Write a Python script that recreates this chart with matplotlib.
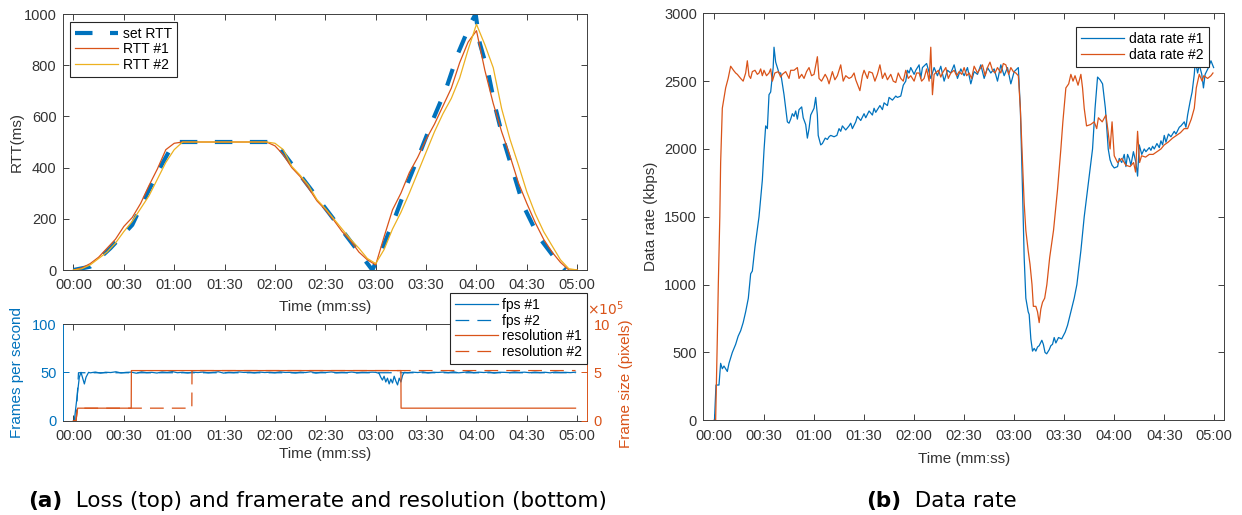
import numpy as np
import matplotlib.pyplot as plt
from matplotlib.ticker import FuncFormatter, MultipleLocator

# MATLAB default colours
BLUE = '#0072BD'
ORANGE = '#D95319'
YELLOW = '#EDB120'
AXCOL = '#404040'

plt.rcParams['font.family'] = ['Liberation Sans', 'DejaVu Sans']
plt.rcParams['font.size'] = 10.5

# ---- data (seconds) ----
# set RTT (ms)
set_rtt_t = [0, 10, 22, 35, 44, 53, 60, 120, 178, 184, 192, 199, 207, 214, 222, 229, 237, 239.5,
             242, 247, 251, 256, 262, 268, 277, 289, 293]
set_rtt_v = [0, 13, 85, 176, 300, 417, 500, 500, 0, 85, 215, 339, 469, 586, 710, 846, 970, 1000,
             885, 771, 641, 510, 380, 250, 130, 26, 0]

# measured RTT, sampled every 5 s
rtt1 = [0, 8, 25, 50, 85, 120, 170, 205, 260, 330, 395, 470, 495,
        500, 500, 500, 500, 500, 500, 500, 500, 500, 500, 500,
        485, 450, 400, 365, 320, 270, 235, 195, 150, 115, 70, 40, 20,
        130, 235, 300, 380, 440, 510, 570, 640, 710, 810, 890, 935,
        780, 650, 540, 445, 340, 260, 185, 120, 70, 30, 0, 0]
rtt2 = [0, 5, 20, 45, 70, 105, 150, 190, 240, 290, 355, 420, 470, 500,
        500, 500, 500, 500, 500, 500, 500, 500, 500, 500,
        495, 470, 405, 370, 330, 275, 240, 200, 160, 120, 85, 45, 25,
        80, 160, 225, 300, 380, 460, 540, 610, 670, 750, 860, 960,
        880, 790, 630, 510, 410, 305, 220, 150, 95, 40, 5, 0]

# frames per second
fps1_start_t = [0, 0.5, 3.5, 4.5, 5.5, 6.5, 7.5, 9]
fps1_start_v = [0, 0, 45, 50, 44, 38, 45, 50]
fps1_mid = [49.5, 50.3, 49.2, 50.1, 49.8, 50.6, 49.4, 50.0, 50.2, 49.1, 50.5, 49.7, 50.0, 49.3,
            50.4, 49.9, 50.8, 49.6, 50.1, 49.4, 50.2, 49.8, 50.3, 49.5, 50.0, 50.6, 49.2, 50.1,
            49.7, 50.4, 49.9, 50.2, 49.5, 50.3, 49.8, 50.1, 49.6, 50.5, 49.9, 50.0, 49.4, 50.2,
            49.8, 50.6, 49.3, 50.1, 49.9, 50.4, 49.6, 50.0, 49.8, 50.3, 49.5, 50.1, 49.9, 50.2]
fps1_dip_t = [180, 182, 183, 184, 185, 186, 187, 188, 189, 190, 191, 192, 193, 194, 195, 196, 197]
fps1_dip_v = [50, 49, 45, 42, 46, 40, 44, 38, 43, 39, 46, 41, 37, 44, 40, 47, 50]
fps1_end = [49.6, 50.2, 49.8, 50.5, 49.4, 50.1, 49.9, 50.3, 49.7, 50.6, 49.5, 50.0, 50.8, 49.6,
            50.2, 49.8, 50.4, 49.3, 50.1, 50.0, 49.7, 50.5, 49.9, 50.2, 49.6, 50.3, 49.8, 50.1,
            49.5, 50.4, 49.9, 50.0, 49.7, 50.2]
fps2_t = [0, 1.5, 3.0, 299]
fps2_v = [0, 0, 49.6, 49.6]

# frame size (pixels)
res1_t = [0, 1.5, 2.5, 34.4, 34.5, 195, 195.1, 299]
res1_v = [0, 0, 129600, 129600, 518400, 518400, 129600, 129600]
res2_t = [0, 1.5, 2.5, 70.5, 70.6, 299]
res2_v = [0, 0, 129600, 129600, 518400, 518400]

# data rate (kbps)
rate1_t = [0.3, 1.2, 3, 4, 5, 6, 7, 8, 9, 11, 13, 14.5, 16, 17.5, 19, 20.6, 22, 23, 24.6, 27, 29, 30,
           31, 32, 33, 34, 35.5, 36, 37, 38, 39, 40, 42, 43, 44, 45, 46, 47, 48, 49, 50, 51, 52.6,
           53.5, 55, 56, 57, 58, 60, 61, 62, 62.5, 64, 65, 66.7, 68, 69, 70, 72, 73.7, 75, 76, 77,
           79, 81, 82, 83, 85, 86, 88, 90, 91, 93, 95, 96, 97, 99.5, 101, 102, 104, 105, 107, 109,
           110, 112, 113.5, 115, 116, 117, 118, 120, 121, 123, 124, 125, 127.5, 130, 132, 134, 136,
           138, 140, 142, 144, 146, 148, 150, 152, 154, 156, 158, 160, 162, 164, 166, 168, 170, 172,
           174, 176, 178, 180, 182.5, 183.7, 185, 186, 187, 188.4, 189, 190, 191, 192, 193, 194,
           195, 196.6, 197.5, 198.5, 199.5, 201, 202, 203, 204, 205, 206.6, 208.5, 210.6, 212, 214,
           216, 217.6, 220, 222, 224, 227, 228.5, 230, 231.5, 233, 234.7, 236.4, 237.5, 238.7, 240,
           242, 243, 244.5, 246, 247, 248, 249, 250, 251.5, 253, 254, 255, 256.5, 258, 259, 261,
           262, 263, 264, 265.6, 267, 268, 269, 270, 271, 272.5, 274, 276, 277, 279, 280, 282, 283,
           284, 285.5, 286.7, 288, 288.6, 290, 291, 292.5, 293.5, 294.5, 296.5, 298, 299.6]
rate1_v = [0, 260, 260, 420, 380, 400, 380, 360, 420, 500, 560, 620, 660, 720, 800, 900, 1080, 1100,
           1280, 1500, 1770, 1990, 2170, 2150, 2400, 2420, 2600, 2750, 2640, 2600, 2560, 2560, 2400,
           2300, 2200, 2190, 2220, 2260, 2240, 2280, 2220, 2290, 2310, 2230, 2180, 2080, 2150, 2250,
           2300, 2380, 2250, 2100, 2030, 2040, 2080, 2070, 2090, 2100, 2090, 2100, 2150, 2130, 2170,
           2140, 2170, 2190, 2150, 2200, 2240, 2210, 2260, 2230, 2280, 2250, 2300, 2270, 2320, 2290,
           2340, 2320, 2380, 2360, 2390, 2380, 2390, 2470, 2500, 2580, 2560, 2600, 2550, 2580, 2620,
           2520, 2600, 2630, 2520, 2600, 2540, 2610, 2500, 2580, 2560, 2620, 2520, 2590, 2540, 2600,
           2480, 2570, 2550, 2620, 2520, 2600, 2560, 2590, 2500, 2620, 2540, 2600, 2480, 2570, 2600,
           2300, 1700, 1200, 900, 800, 780, 600, 510, 530, 510, 540, 550, 590, 560, 500, 490, 520,
           550, 560, 610, 570, 610, 600, 650, 700, 800, 900, 1000, 1250, 1500, 1700, 2000, 2300,
           2530, 2510, 2480, 2300, 2000, 1920, 1880, 1860, 1870, 1930, 1900, 1960, 1870, 1960, 1930,
           1880, 1980, 1900, 1800, 2030, 1960, 2000, 1980, 2010, 1990, 2020, 2000, 2040, 2010, 2060,
           2030, 2100, 2050, 2110, 2090, 2130, 2110, 2160, 2170, 2200, 2160, 2250, 2350, 2420, 2550,
           2650, 2560, 2620, 2550, 2450, 2550, 2600, 2650, 2600]

rate2_t = [0, 1, 2, 2.6, 3.5, 4, 5, 7, 8.5, 10, 11.7, 13, 14, 16, 17.5, 19, 20, 21, 22, 23, 24.6, 26,
           27, 28, 29, 30, 31.5, 33, 34, 35, 36.5, 38.6, 40, 41, 43, 45, 46, 48, 50, 51, 52.6, 54,
           55.5, 57, 58.5, 60, 62, 63, 64.5, 66.7, 68, 69, 71, 72.5, 74, 76, 77.5, 79, 81, 82.5, 84,
           85, 87.5, 89, 90, 92, 93, 95, 96.5, 98, 99.5, 101, 102.5, 104, 106, 107.5, 109, 110.5,
           112, 113.5, 115, 116.5, 118, 120, 121.5, 123, 124.5, 126, 127.5, 129, 130, 131, 132,
           134.6, 136, 137, 139, 140.5, 142, 144, 145.5, 147, 148.6, 150, 151.5, 153, 154.5, 156,
           158, 159.5, 161, 162.6, 164, 165.5, 167, 168.5, 170, 172, 173.5, 175, 176.7, 178, 179.5,
           181, 182.5, 183.7, 185, 186, 187, 188.4, 189.5, 190.7, 191.5, 193, 194, 195, 196, 197,
           198.3, 199.6, 201.3, 203.6, 206, 208, 209.2, 211, 212.7, 214, 215.3, 216.5, 218.3, 220,
           221, 222, 223.4, 225.8, 228, 229.5, 230.5, 232.8, 235, 236.3, 237.5, 238.7, 240, 242,
           244.5, 247, 249.5, 251.6, 252.8, 254, 255.2, 256.4, 258.8, 261, 263.3, 265.6, 268, 270,
           272.3, 275, 277.3, 279.7, 282, 284, 286.2, 288, 289.2, 291, 292.7, 293.7, 296, 298, 299.2]
rate2_v = [0, 0, 600, 1000, 1500, 1900, 2300, 2450, 2520, 2610, 2580, 2560, 2550, 2520, 2500, 2560,
           2650, 2540, 2520, 2570, 2580, 2550, 2560, 2590, 2540, 2580, 2540, 2560, 2590, 2500, 2560,
           2570, 2530, 2550, 2570, 2520, 2580, 2580, 2600, 2520, 2550, 2520, 2570, 2600, 2540, 2550,
           2680, 2520, 2500, 2550, 2520, 2480, 2570, 2510, 2540, 2620, 2500, 2540, 2520, 2530, 2560,
           2510, 2430, 2540, 2580, 2520, 2570, 2560, 2500, 2550, 2620, 2520, 2560, 2510, 2550, 2500,
           2490, 2560, 2520, 2500, 2580, 2520, 2540, 2500, 2560, 2560, 2500, 2520, 2590, 2500, 2750,
           2400, 2550, 2580, 2530, 2560, 2600, 2520, 2560, 2580, 2540, 2570, 2550, 2600, 2540, 2560,
           2520, 2610, 2560, 2590, 2620, 2540, 2600, 2640, 2580, 2560, 2600, 2560, 2630, 2620, 2550,
           2600, 2570, 2560, 2540, 2300, 1900, 1600, 1400, 1250, 1150, 1000, 840, 840, 800, 720, 820,
           870, 900, 1000, 1200, 1400, 1700, 2000, 2200, 2450, 2480, 2550, 2500, 2540, 2470, 2550,
           2450, 2300, 2170, 2180, 2200, 2150, 2230, 2200, 2250, 2130, 2000, 2200, 1950, 1900, 1930,
           1880, 1870, 1900, 1830, 2130, 1900, 1950, 1940, 1960, 1960, 1980, 2000, 2030, 2050, 2080,
           2100, 2120, 2150, 2150, 2220, 2300, 2450, 2550, 2500, 2540, 2520, 2540, 2560]

time_ticks = np.arange(0, 301, 30)


def mmss(v, pos):
    v = int(round(v))
    return '%02d:%02d' % (v // 60, v % 60)


def style_axes(ax):
    ax.set_xlim(-6.4, 306)
    ax.set_xticks(time_ticks)
    ax.xaxis.set_major_formatter(FuncFormatter(mmss))
    ax.tick_params(direction='in', length=4, width=0.7, colors=AXCOL, labelcolor='#333333',
                   top=True, right=True, labelsize=10.5)
    ax.tick_params(axis='x', pad=6)
    ax.tick_params(axis='y', pad=4.5)
    for s in ax.spines.values():
        s.set_color(AXCOL)
        s.set_linewidth(0.7)


def legend(ax, handles, **kw):
    lg = ax.legend(handles=handles, fontsize=10, handlelength=3.1, handletextpad=0.35,
                   labelspacing=0.12, borderpad=0.35, borderaxespad=0, fancybox=False,
                   framealpha=1, edgecolor='#262626', **kw)
    lg.get_frame().set_linewidth(0.8)
    return lg


fig = plt.figure(figsize=(12.42, 5.15), dpi=100)
W, H = 1242.0, 515.0
LABCOL = '#333333'

# ---- top left: RTT ----
ax1 = fig.add_axes([62.7 / W, 1 - 270 / H, 524.6 / W, 256 / H])
rtt_t = np.arange(0, 301, 5)
h0, = ax1.plot(set_rtt_t, set_rtt_v, color=BLUE, lw=3, dashes=(4.2, 4.2), label='set RTT')
h1, = ax1.plot(rtt_t, rtt1, color=ORANGE, lw=0.9, label='RTT #1')
h2, = ax1.plot(rtt_t, rtt2, color=YELLOW, lw=0.9, label='RTT #2')
ax1.set_ylim(0, 1000)
ax1.yaxis.set_major_locator(MultipleLocator(200))
style_axes(ax1)
ax1.set_ylabel('RTT(ms)', fontsize=11, color=LABCOL)
ax1.yaxis.set_label_coords(-0.075, 0.5)
ax1.set_xlabel('Time (mm:ss)', fontsize=11, color=LABCOL)
ax1.xaxis.set_label_coords(0.5, -0.119)
legend(ax1, [h0, h1, h2], loc='upper left', bbox_to_anchor=(70 / W, 1 - 21.7 / H),
       bbox_transform=fig.transFigure)

# ---- bottom left: fps and resolution ----
ax2 = fig.add_axes([62.7 / W, 1 - 420.7 / H, 524.6 / W, 96.7 / H])
ax3 = ax2.twinx()
fps1_t = (fps1_start_t + list(np.linspace(10, 178, len(fps1_mid))) + fps1_dip_t
          + list(np.linspace(199, 299, len(fps1_end))))
fps1_v = fps1_start_v + fps1_mid + fps1_dip_v + fps1_end
g1, = ax2.plot(fps1_t, fps1_v, color=BLUE, lw=0.9, label='fps #1')
g2, = ax2.plot(fps2_t, fps2_v, color=BLUE, lw=0.9, dashes=(11, 6.5), label='fps #2')
g3, = ax3.plot(res1_t, res1_v, color=ORANGE, lw=0.9, label='resolution #1')
g4, = ax3.plot(res2_t, res2_v, color=ORANGE, lw=0.9, dashes=(11, 6.5), label='resolution #2')
ax2.set_ylim(0, 100)
ax2.set_yticks([0, 50, 100])
ax3.set_ylim(0, 1e6)
ax3.set_yticks([0, 5e5, 1e6])
ax3.set_yticklabels(['0', '5', '10'])
style_axes(ax2)
ax3.set_xlim(-6.4, 306)
ax2.tick_params(axis='y', right=False, colors=BLUE, labelcolor=BLUE)
ax3.tick_params(direction='in', length=4, width=0.7, right=True, left=False,
                colors=ORANGE, labelcolor=ORANGE, labelsize=10.5, pad=4.5)
for s in ax3.spines.values():
    s.set_visible(False)
ax2.spines['left'].set_color(BLUE)
ax2.spines['right'].set_color(ORANGE)
ax2.set_ylabel('Frames per second', fontsize=11, color=BLUE)
ax2.yaxis.set_label_coords(-0.073, 0.5)
ax3.set_ylabel('Frame size (pixels)', fontsize=11, color=ORANGE, rotation=90)
ax3.yaxis.set_label_coords(1.06, 0.38)
ax2.set_xlabel('Time (mm:ss)', fontsize=11, color=LABCOL)
ax2.xaxis.set_label_coords(0.5, -0.267)
ax3.text(1.0, 1.06, r'$\times10^5$', transform=ax3.transAxes, color=ORANGE, fontsize=10,
         ha='left', va='bottom')
lg = legend(ax3, [g1, g2, g3, g4], loc='upper right', bbox_to_anchor=(587.3 / W, 1 - 293 / H),
            bbox_transform=fig.transFigure)
lg.set_zorder(10)

# ---- right: data rate ----
ax4 = fig.add_axes([703.3 / W, 1 - 420.3 / H, 521 / W, 407 / H])
k1, = ax4.plot(rate1_t, rate1_v, color=BLUE, lw=0.9, label='data rate #1')
k2, = ax4.plot(rate2_t, rate2_v, color=ORANGE, lw=0.9, label='data rate #2')
ax4.set_ylim(0, 3000)
ax4.yaxis.set_major_locator(MultipleLocator(500))
style_axes(ax4)
ax4.set_ylabel('Data rate (kbps)', fontsize=11, color=LABCOL)
ax4.yaxis.set_label_coords(-0.086, 0.5)
ax4.set_xlabel('Time (mm:ss)', fontsize=11, color=LABCOL)
ax4.xaxis.set_label_coords(0.5, -0.077)
legend(ax4, [k1, k2], loc='upper right', bbox_to_anchor=(1208.7 / W, 1 - 27.3 / H),
       bbox_transform=fig.transFigure)

# ---- captions ----
cap_font = ['DejaVu Sans']
ta = fig.text(28 / W, 1 - 501 / H, '(a)', fontsize=15.5, fontweight='bold', family=cap_font,
              va='center', ha='left')
tb = fig.text(866 / W, 1 - 501 / H, '(b)', fontsize=15.5, fontweight='bold', family=cap_font,
              va='center', ha='left')
ax1.annotate('  Loss (top) and framerate and resolution (bottom)', xy=(1, 0), xycoords=ta,
             fontsize=15.5, family=cap_font, va='bottom', ha='left', annotation_clip=False)
ax4.annotate('  Data rate', xy=(1, 0), xycoords=tb, fontsize=15.5, family=cap_font,
             va='bottom', ha='left', annotation_clip=False)

fig.savefig('out.png', dpi=100)
